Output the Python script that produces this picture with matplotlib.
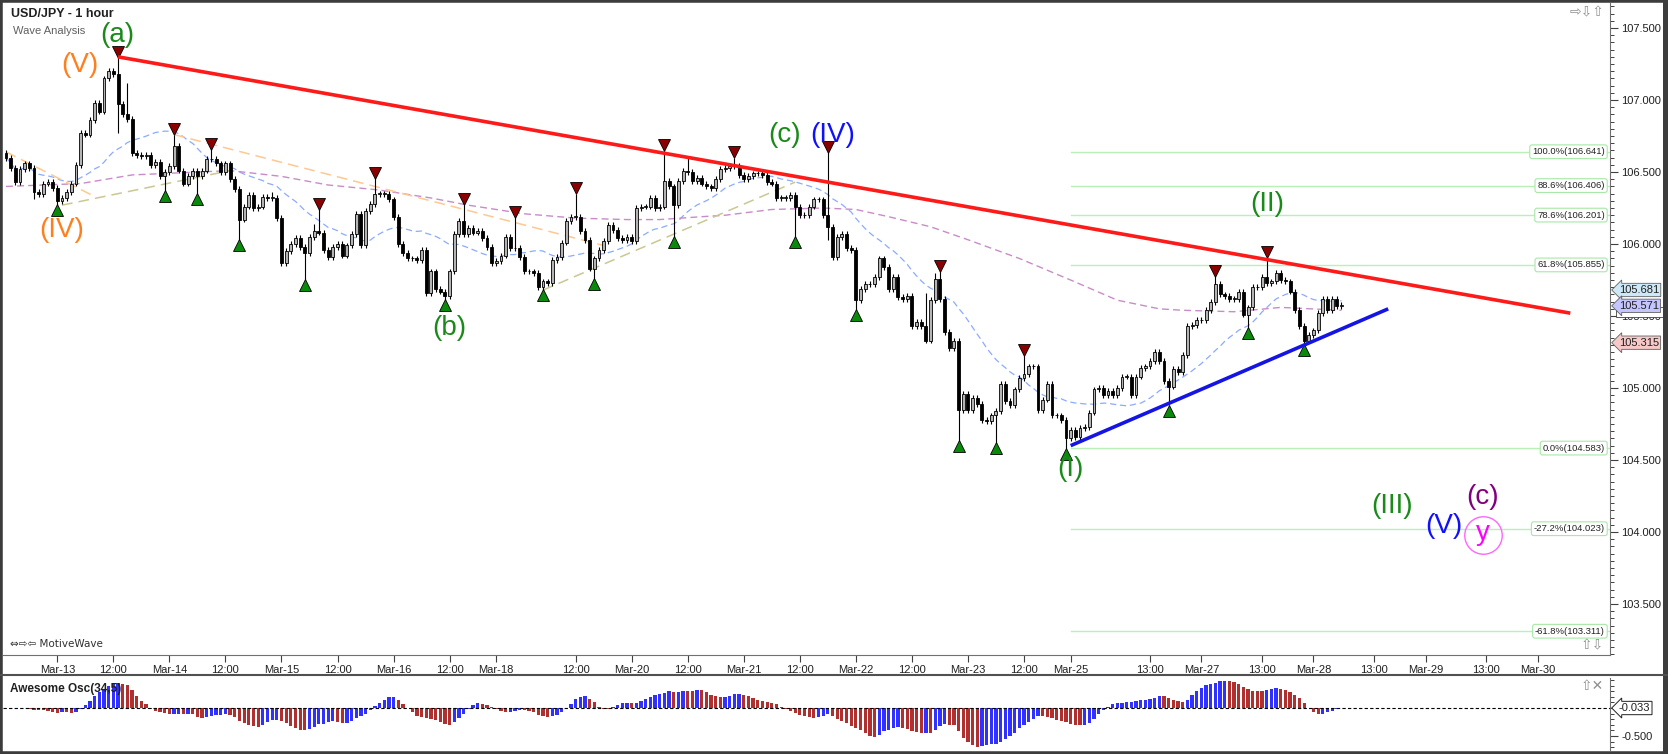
import numpy as np
import pandas as pd
import matplotlib
matplotlib.use('Agg')
import matplotlib.pyplot as plt
import matplotlib.transforms as mtransforms
from matplotlib.lines import Line2D
from matplotlib.patches import Rectangle
from matplotlib.ticker import MultipleLocator, FixedLocator

plt.rcParams['font.family'] = ['Liberation Sans', 'DejaVu Sans']

# hourly closes, one per bar (Mar-12 13:00 .. Mar-28 06:00)
first_open = 106.63
closes = [
    106.60, 106.53, 106.43, 106.52, 106.56, 106.53, 106.36, 106.35, 106.42, 106.43,
    106.39, 106.30, 106.32, 106.36, 106.42, 106.55, 106.77, 106.76, 106.86, 106.98,
    106.92, 107.15, 107.20, 107.18, 106.97, 106.90, 106.87, 106.63, 106.62, 106.61,
    106.62, 106.55, 106.57, 106.47, 106.50, 106.54, 106.68, 106.51, 106.42, 106.47,
    106.51, 106.47, 106.51, 106.59, 106.59, 106.56, 106.50, 106.56, 106.45, 106.38,
    106.17, 106.26, 106.34, 106.25, 106.26, 106.33, 106.32, 106.32, 106.18, 105.87,
    105.95, 106.00, 106.04, 105.98, 105.94, 106.05, 106.09, 106.08, 105.96, 105.91,
    105.98, 106.00, 105.92, 105.99, 106.07, 106.21, 105.99, 106.23, 106.28, 106.35,
    106.35, 106.35, 106.31, 106.19, 106.00, 105.94, 105.90, 105.90, 105.89, 105.96,
    105.66, 105.81, 105.69, 105.67, 105.64, 105.81, 106.07, 106.16, 106.07, 106.11,
    106.08, 106.09, 106.04, 105.98, 105.87, 105.88, 105.92, 106.05, 105.97, 105.97,
    105.91, 105.81, 105.81, 105.80, 105.70, 105.74, 105.73, 105.89, 105.91, 106.01,
    106.16, 106.19, 106.19, 106.09, 106.03, 105.83, 105.90, 105.96, 106.02, 106.13,
    106.10, 106.04, 106.03, 106.05, 106.02, 106.25, 106.26, 106.26, 106.32, 106.25,
    106.26, 106.44, 106.40, 106.27, 106.44, 106.51, 106.50, 106.44, 106.46, 106.42,
    106.40, 106.39, 106.45, 106.52, 106.53, 106.54, 106.54, 106.48, 106.45, 106.47,
    106.49, 106.49, 106.48, 106.43, 106.42, 106.32, 106.32, 106.32, 106.34, 106.26,
    106.20, 106.20, 106.26, 106.31, 106.31, 106.20, 106.12, 105.91, 106.05, 106.07,
    105.97, 105.96, 105.61, 105.69, 105.72, 105.72, 105.77, 105.90, 105.84, 105.69,
    105.77, 105.63, 105.62, 105.64, 105.43, 105.46, 105.43, 105.33, 105.61, 105.76,
    105.62, 105.39, 105.28, 105.33, 104.85, 104.96, 104.85, 104.93, 104.89, 104.78,
    104.77, 104.81, 104.84, 105.03, 104.91, 104.88, 104.99, 105.07, 105.10, 105.15,
    105.15, 104.85, 104.92, 105.03, 104.81, 104.81, 104.78, 104.65, 104.71, 104.66,
    104.72, 104.73, 104.83, 104.99, 105.00, 104.95, 104.98, 104.95, 105.00, 105.08,
    105.08, 104.95, 105.08, 105.14, 105.15, 105.19, 105.25, 105.19, 105.05, 105.01,
    105.13, 105.11, 105.23, 105.43, 105.44, 105.47, 105.47, 105.54, 105.60, 105.72,
    105.65, 105.64, 105.62, 105.62, 105.67, 105.51, 105.56, 105.70, 105.70, 105.77,
    105.73, 105.74, 105.80, 105.75, 105.74, 105.67, 105.54, 105.43, 105.33, 105.37,
    105.40, 105.52, 105.62, 105.54, 105.62, 105.57, 105.58,
]

# long wicks (bar: price)
spike_highs = {22: 107.22, 24: 107.30, 26: 107.12, 36: 106.76, 44: 106.66, 57: 106.36,
               66: 106.14, 67: 106.24, 79: 106.46, 98: 106.28, 109: 106.19, 122: 106.35,
               141: 106.65, 146: 106.60, 156: 106.60, 176: 106.64, 197: 105.66, 199: 105.80,
               200: 105.81, 218: 105.23, 259: 105.78, 270: 105.91}
spike_lows = {6: 106.31, 11: 106.27, 24: 106.77, 34: 106.37, 41: 106.35, 50: 106.03,
              64: 105.75, 94: 105.61, 115: 105.68, 126: 105.76, 143: 106.05, 169: 106.05,
              176: 106.03, 182: 105.54, 204: 104.63, 212: 104.62, 227: 104.58, 249: 104.88,
              266: 105.42, 278: 105.30}

# swing markers
top_bars = [24, 36, 44, 67, 79, 98, 109, 122, 141, 156, 176, 200, 218, 259, 270]
bottom_bars = [11, 34, 41, 50, 64, 94, 115, 126, 143, 169, 182, 204, 212, 227, 249, 266, 278]

# slow moving average as drawn
slow_ma_bars = [0, 16, 27, 34, 48, 59, 69, 80, 91, 99, 111, 122, 133, 140, 149, 154, 164,
                175, 182, 189, 198, 206, 217, 228, 238, 247, 252, 263, 273, 286]
slow_ma_vals = [106.40, 106.42, 106.48, 106.49, 106.51, 106.47, 106.41, 106.375, 106.32,
                106.27, 106.21, 106.18, 106.17, 106.17, 106.19, 106.20, 106.24, 106.25,
                106.24, 106.19, 106.12, 106.03, 105.90, 105.75, 105.61, 105.55, 105.54,
                105.53, 105.56, 105.54]

# trend lines (bar, price) pairs
red_line = [(24, 107.30), (335, 105.52)]
blue_line = [(228, 104.60), (296, 105.55)]
orange_lines = [[(0, 106.64), (19, 106.33)], [(36, 106.76), (128, 105.99)]]
olive_lines = [[(12, 106.27), (48, 106.51)], [(115, 105.68), (169, 106.43)]]

# fibonacci levels
fib_start = 228
fib_pcts = ['100.0%', '88.6%', '78.6%', '61.8%', '0.0%', '-27.2%', '-61.8%']
fib_prices = [106.641, 106.406, 106.201, 105.855, 104.583, 104.023, 103.311]

# wave labels
wave_text = ['(a)', '(V)', '(IV)', '(b)', '(c)', '(IV)', '(I)', '(II)', '(III)', '(V)', '(c)', 'y']
wave_bar = [23.8, 15.8, 12.0, 94.9, 166.8, 177.0, 228.0, 270.0, 296.8, 308.0, 316.3, 316.3]
wave_price = [107.45, 107.24, 106.10, 105.42, 106.76, 106.76, 104.44, 106.28, 104.18, 104.04, 104.24, 103.99]
wave_color = ['#1a8a1a', '#ff7f1e', '#ff7f1e', '#1a8a1a', '#1a8a1a', '#1010ff', '#1a8a1a',
              '#1a8a1a', '#1a8a1a', '#1010ff', '#800080', '#ff00ff']

# price tags on the axis
tag_vals = [105.681, 105.571, 105.315]
tag_text = ['105.681', '105.571', '105.315']
tag_colors = ['#cde8f6', '#c4c4ff', '#f6c8c8']
hidden_tag = (105.495, 105.56)      # tag mostly covered by 105.571
ao_tag = '-0.033'

tick_bars = [11, 23, 35, 47, 59, 71, 83, 95, 105, 122, 134, 146, 158, 170, 182, 194,
             206, 218, 228, 245, 256, 269, 280, 293, 304, 317, 328]
tick_labels = ['Mar-13', '12:00', 'Mar-14', '12:00', 'Mar-15', '12:00', 'Mar-16', '12:00',
               'Mar-18', '12:00', 'Mar-20', '12:00', 'Mar-21', '12:00', 'Mar-22', '12:00',
               'Mar-23', '12:00', 'Mar-25', '13:00', 'Mar-27', '13:00', 'Mar-28', '13:00',
               'Mar-29', '13:00', 'Mar-30']

# ---- derived candle values ----
c = np.array(closes)
o = np.concatenate([[first_open], c[:-1]])
n = len(c)
x = np.arange(n)
pad = 0.02
hi = np.maximum(o, c) + pad
lo = np.minimum(o, c) - pad
for k, v in spike_highs.items():
    hi[k] = v
for k, v in spike_lows.items():
    lo[k] = v

mid = pd.Series((hi + lo) / 2)
ao = (mid.rolling(5, min_periods=1).mean() - mid.rolling(34, min_periods=1).mean()).values
fast_ma = pd.Series(c).rolling(20, min_periods=1).mean().values

# ---- layout in pixels ----
W, H = 1668, 754


def fx(px):
    return px / W


def fy(py):
    return 1 - py / H


fig = plt.figure(figsize=(W / 100, H / 100), dpi=100)
fig.patch.set_facecolor('white')

ax = fig.add_axes([fx(3), fy(655), fx(1610) - fx(3), fy(3) - fy(655)])
ax_o = fig.add_axes([fx(3), fy(750), fx(1610) - fx(3), fy(678) - fy(750)])

x_left, x_right = -0.64, 343.5
ax.set_xlim(x_left, x_right)
ax.set_ylim(103.146, 107.674)

# fib levels
for pct, p in zip(fib_pcts, fib_prices):
    ax.plot([fib_start, x_right], [p, p], color='#b8f0b8', lw=1, zorder=1)
    ax.text(342.4, p, f'{pct}({p:.3f})', fontsize=6.8, ha='right', va='center', color='#222222',
            zorder=6, bbox=dict(boxstyle='round,pad=0.25', fc='white', ec='#a8e8a8', lw=0.8))

# moving averages and dashed guides
ax.plot(x, fast_ma, color='#8cabff', lw=0.9, ls=(0, (5, 3)), zorder=2)
ax.plot(slow_ma_bars, slow_ma_vals, color='#c88cc8', lw=1.0, ls=(0, (5, 3)), zorder=2)
for seg in orange_lines:
    ax.plot([seg[0][0], seg[1][0]], [seg[0][1], seg[1][1]], color='#ffc890', lw=1.1,
            ls=(0, (7, 4)), zorder=2)
for seg in olive_lines:
    ax.plot([seg[0][0], seg[1][0]], [seg[0][1], seg[1][1]], color='#cbc793', lw=1.1,
            ls=(0, (7, 4)), zorder=2)

# candles
up = c >= o
ax.vlines(x, lo, hi, color='black', lw=0.8, zorder=3)
body_h = np.maximum(np.abs(c - o), 0.004)
ax.bar(x, body_h, bottom=np.minimum(o, c), width=0.62,
       color=np.where(up, '#b4b4b4', '#000000'), edgecolor='black', linewidth=0.6, zorder=4)

# swing markers
ax.plot(top_bars, hi[top_bars] + 0.036, ls='none', marker='v', ms=8.5, mfc='#8b0000',
        mec='black', mew=0.6, zorder=5)
ax.plot(bottom_bars, lo[bottom_bars] - 0.036, ls='none', marker='^', ms=8.5, mfc='#0a8a0a',
        mec='black', mew=0.6, zorder=5)

# trend lines
ax.plot([p[0] for p in red_line], [p[1] for p in red_line], color='#ff1a1a', lw=2.6,
        solid_capstyle='butt', zorder=5)
ax.plot([p[0] for p in blue_line], [p[1] for p in blue_line], color='#1414e6', lw=2.6,
        solid_capstyle='butt', zorder=5)

# wave labels
for t, b, p, col in zip(wave_text, wave_bar, wave_price, wave_color):
    ax.text(b, p, t, fontsize=20, color=col, ha='center', va='center', zorder=7,
            family=['Liberation Sans', 'DejaVu Sans'])
ax.plot([wave_bar[-1]], [wave_price[-1] - 0.01], ls='none', marker='o', ms=27, mfc='none',
        mec='#ff66ff', mew=1.0, zorder=7)

# axes styling: main
for s in ['left', 'top']:
    ax.spines[s].set_visible(False)
ax.spines['right'].set_color('#707070')
ax.spines['bottom'].set_color('#707070')
ax.yaxis.tick_right()
ax.yaxis.set_major_locator(MultipleLocator(0.5))
ax.yaxis.set_minor_locator(MultipleLocator(0.05))
ax.yaxis.set_major_formatter(lambda v, pos: f'{v:.3f}')
ax.tick_params(axis='y', which='major', length=6, width=0.8, color='#404040',
               labelsize=8, labelcolor='#202020', pad=2)
ax.tick_params(axis='y', which='minor', length=3, width=0.7, color='#404040')
ax.set_xticks(tick_bars)
ax.set_xticklabels(tick_labels)
ax.tick_params(axis='x', length=5, width=0.8, color='#404040', labelsize=8,
               labelcolor='#202020', pad=2)

# axis tags
blend = mtransforms.blended_transform_factory(ax.transAxes, ax.transData)
ax.add_patch(Rectangle((1.004, hidden_tag[0]), 0.029, hidden_tag[1] - hidden_tag[0],
                       transform=blend, fc='white', ec='#404040', lw=0.6, clip_on=False,
                       zorder=7))
for v, t, col in zip(tag_vals, tag_text, tag_colors):
    ax.text(1.0055, v, t, transform=blend, fontsize=8, ha='left', va='center', color='#202020',
            zorder=8, clip_on=False,
            bbox=dict(boxstyle='larrow,pad=0.15', fc=col, ec='#606060', lw=0.6))

# awesome oscillator
ax_o.set_xlim(x_left, x_right)
ax_o.set_ylim(-0.75, 0.536)
rising = np.concatenate([[False], ao[1:] > ao[:-1]])
ax_o.bar(x, ao, width=0.7, color=np.where(rising, '#3030ff', '#b03030'), edgecolor='none',
         zorder=2)
ax_o.axhline(0, color='black', lw=0.8, ls=(0, (3, 2)), zorder=3)
for s in ['left', 'top', 'bottom']:
    ax_o.spines[s].set_visible(False)
ax_o.spines['right'].set_color('#707070')
ax_o.set_xticks([])
ax_o.yaxis.tick_right()
ax_o.yaxis.set_major_locator(FixedLocator([-0.5]))
ax_o.yaxis.set_minor_locator(MultipleLocator(0.1))
ax_o.yaxis.set_major_formatter(lambda v, pos: f'{v:.3f}')
ax_o.tick_params(axis='y', which='major', length=6, width=0.8, color='#404040',
                 labelsize=8, labelcolor='#202020', pad=2)
ax_o.tick_params(axis='y', which='minor', length=3, width=0.7, color='#404040')
blend_o = mtransforms.blended_transform_factory(ax_o.transAxes, ax_o.transData)
ax_o.text(1.0055, 0, ao_tag, transform=blend_o, fontsize=8, ha='left', va='center',
          color='#202020', clip_on=False,
          bbox=dict(boxstyle='larrow,pad=0.15', fc='white', ec='#202020', lw=0.7))

# titles and small widgets
fig.text(fx(11), fy(14), 'USD/JPY - 1 hour', fontsize=9, weight='bold', va='center',
         color='#202020')
fig.text(fx(13), fy(31), 'Wave Analysis', fontsize=8, va='center', color='#606060')
fig.text(fx(10), fy(644), '⇔⇨⇦ MotiveWave', fontsize=7.5, va='center', color='#303030',
         family=['DejaVu Sans'])
fig.text(fx(10), fy(689), 'Awesome Osc(34,5)', fontsize=8.5, weight='bold', va='center',
         color='#202020')
fig.text(fx(1604), fy(12), '⇨⇩⇧', fontsize=10, va='center', ha='right', color='#909090',
         family=['DejaVu Sans'])
fig.text(fx(1604), fy(645), '⇧⇩', fontsize=10, va='center', ha='right', color='#909090',
         family=['DejaVu Sans'])
fig.text(fx(1604), fy(686), '⇧✕', fontsize=10, va='center', ha='right', color='#909090',
         family=['DejaVu Sans'])

# window frame
fig.add_artist(Line2D([0, 1], [fy(675), fy(675)], color='#505050', lw=1.5))
fig.add_artist(Rectangle((0, 0), 1, 1, transform=fig.transFigure, fill=False,
                         ec='#3c3c3c', lw=4))
fig.add_artist(Rectangle((fx(1663), 0), fx(5), 1, transform=fig.transFigure,
                         fc='#3c3c3c', ec='none'))

fig.savefig('out.png', dpi=100)
